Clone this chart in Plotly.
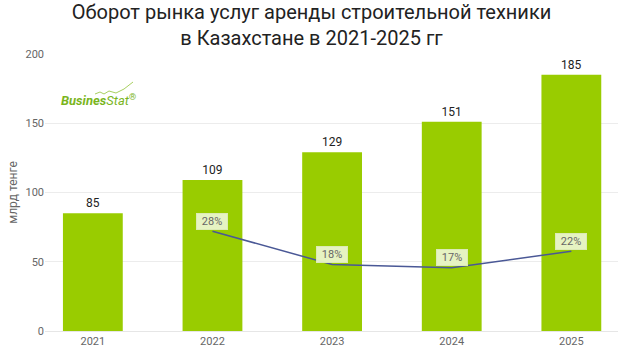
import plotly.graph_objects as go

years = ["2021", "2022", "2023", "2024", "2025"]
turnover = [85, 109, 129, 151, 185]
growth_years = ["2022", "2023", "2024", "2025"]
growth = [28, 18, 17, 22]
growth_labels = ["28%", "18%", "17%", "22%"]

fig = go.Figure()
fig.add_trace(go.Bar(
    x=years, y=turnover, width=0.5,
    marker=dict(color="#99cc00", line=dict(width=0)),
    text=[str(v) for v in turnover], textposition="outside",
    textfont=dict(family="Roboto", size=12, color="#222222"),
    cliponaxis=False, showlegend=False,
))
fig.add_trace(go.Scatter(
    x=growth_years, y=growth, yaxis="y2", mode="lines",
    line=dict(color="#4a5896", width=1.5), showlegend=False,
))
for xv, yv, lab in zip(growth_years, growth, growth_labels):
    fig.add_annotation(
        x=years.index(xv), y=yv, xref="x", yref="y2", text=lab,
        showarrow=False, yshift=10, width=28, height=13, align="center", valign="middle",
        font=dict(family="Roboto", size=11, color="#666666"),
        bgcolor="rgba(234,244,204,0.95)", bordercolor="rgba(220,235,180,1)",
        borderwidth=1, borderpad=1,
    )

# logo
fig.add_annotation(
    xref="paper", yref="paper", x=0.0925, y=0.834, xanchor="center", yanchor="middle",
    text="<b><i>Busines</i></b><i>Stat</i><sup>®</sup>", showarrow=False,
    font=dict(family="Roboto", size=13, color="#7ab51d"),
)
pts = [(95, 94), (100, 92), (104, 94), (109, 91), (116, 93), (124, 89), (133, 82)]
path = "M " + " L ".join(f"{(x-45)/573:.4f},{(331-y)/277:.4f}" for x, y in pts)
fig.add_shape(type="path", xref="paper", yref="paper", path=path,
              line=dict(color="#a8d060", width=1))

fig.update_layout(
    width=623, height=352,
    margin=dict(l=45, r=5, t=54, b=21),
    paper_bgcolor="white", plot_bgcolor="white",
    title=dict(
        text="Оборот рынка услуг аренды строительной техники<br>в Казахстане в 2021-2025 гг",
        x=0.5, xanchor="center", y=0.945, yanchor="middle", yref="container",
        font=dict(family="Roboto", size=20, color="#222222"),
    ),
    xaxis=dict(
        type="category", range=[-0.4, 4.39], showgrid=False,
        tickfont=dict(family="Roboto", size=11, color="#666666"),
        showline=True, linecolor="#e6e6e6", ticks="",
    ),
    yaxis=dict(
        range=[0, 200], tickvals=[0, 50, 100, 150, 200],
        gridcolor="#ececec", zeroline=False,
        tickfont=dict(family="Roboto", size=11, color="#666666"),
        title=dict(text="млрд тенге", font=dict(family="Roboto", size=12, color="#666666"), standoff=5),
    ),
    yaxis2=dict(
        overlaying="y", side="right", range=[-2, -2 + 200 / 2.4],
        showticklabels=False, showgrid=False, zeroline=False, showline=False, ticks="",
    ),
    bargap=0.5,
)

fig.write_html("out.html")
